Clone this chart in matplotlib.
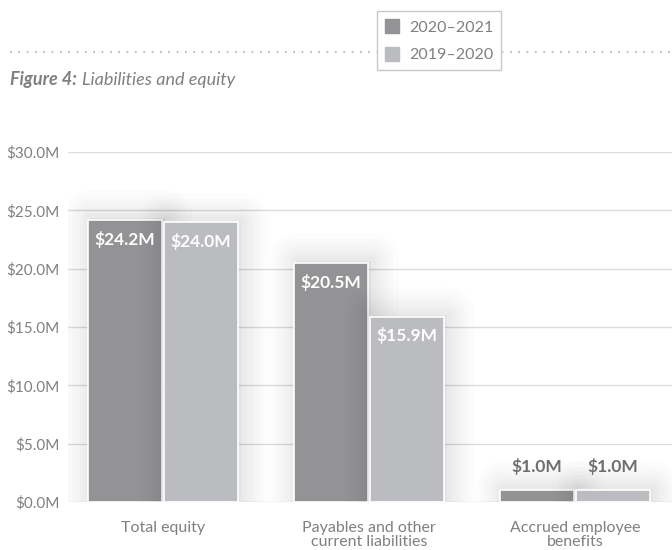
import numpy as np
import matplotlib
matplotlib.use("Agg")
import matplotlib.pyplot as plt
import matplotlib.patheffects as pe
from matplotlib.lines import Line2D
from matplotlib.patches import Patch

plt.rcParams['font.family'] = ['Lato', 'DejaVu Sans']

# data
categories = ["Total equity", "Payables and other\ncurrent liabilities", "Accrued employee\nbenefits"]
series = ["2020\u20132021", "2019\u20132020"]
values_2021 = [24.2, 20.5, 1.0]
values_2020 = [24.0, 15.9, 1.0]
yticks = [0, 5, 10, 15, 20, 25, 30]

dark = "#939396"
light = "#bbbcbf"
text_grey = "#808083"

fig = plt.figure(figsize=(6.72, 5.5), dpi=100)
ax = fig.add_axes([68 / 672, 1 - 502 / 550, 1 - 68 / 672, 350 / 550])

x = np.arange(len(categories))
w = 0.36

# soft shadow behind the bars
shadow = [pe.Stroke(linewidth=lw, foreground="black", alpha=0.012, offset=(2, 1),
                    joinstyle="round")
          for lw in (40, 32, 26, 20, 15, 10, 6)] + [pe.Normal()]

b1 = ax.bar(x - w / 2 - 0.005, values_2021, w, color=dark, edgecolor="white",
            linewidth=1.2, zorder=3, path_effects=shadow)
b2 = ax.bar(x + w / 2 + 0.005, values_2020, w, color=light, edgecolor="white",
            linewidth=1.2, zorder=3, path_effects=shadow)

for bars, vals in ((b1, values_2021), (b2, values_2020)):
    for rect, v in zip(bars, vals):
        cx = rect.get_x() + rect.get_width() / 2
        label = f"${v:.1f}M"
        if v > 3:
            ax.annotate(label, (cx, v), xytext=(0, -14), textcoords="offset points",
                        ha="center", va="center", color="white", fontsize=12.5,
                        fontweight="bold", zorder=5)
        else:
            ax.annotate(label, (cx, v), xytext=(0, 17), textcoords="offset points",
                        ha="center", va="center", color="#6e6e71", fontsize=12.5,
                        fontweight="bold", zorder=5)

ax.set_ylim(0, 30)
ax.set_xlim(-0.46, 2.47)
ax.set_yticks(yticks)
ax.set_yticklabels([f"${t:.1f}M" for t in yticks], color=text_grey, fontsize=11)
ax.set_xticks(x)
ax.set_xticklabels(categories, color=text_grey, fontsize=11.5, linespacing=1.0)
ax.tick_params(axis="both", length=0)
ax.tick_params(axis="x", pad=14)
ax.tick_params(axis="y", pad=6)
ax.yaxis.grid(True, color="#dcdcdc", linewidth=1)
ax.set_axisbelow(True)
for s in ax.spines.values():
    s.set_visible(False)

# header: dotted rule, title, legend
fig.add_artist(Line2D([10 / 672, 1], [1 - 52 / 550] * 2, color="#b0b0b0",
                      linestyle=(0, (1, 4)), linewidth=1.2))
fig.text(10 / 672, 1 - 80 / 550, "Figure 4:", fontsize=13, fontstyle="italic",
         fontweight="bold", color=text_grey, va="center")
fig.text(82 / 672, 1 - 80 / 550, "Liabilities and equity", fontsize=13,
         fontstyle="italic", color=text_grey, va="center")

handles = [Patch(color=dark), Patch(color=light)]
leg = fig.legend(handles, series, loc="upper left", bbox_to_anchor=(377 / 672, 1 - 11 / 550),
                 frameon=True, fontsize=11.5, handlelength=0.9, handleheight=1.0,
                 handletextpad=0.6, labelspacing=0.75, borderpad=0.5,
                 borderaxespad=0, fancybox=False, labelcolor=text_grey)
leg.get_frame().set_edgecolor("#c8c8c8")
leg.get_frame().set_facecolor("white")
leg.get_frame().set_alpha(1)

fig.savefig("out.png", dpi=100)
